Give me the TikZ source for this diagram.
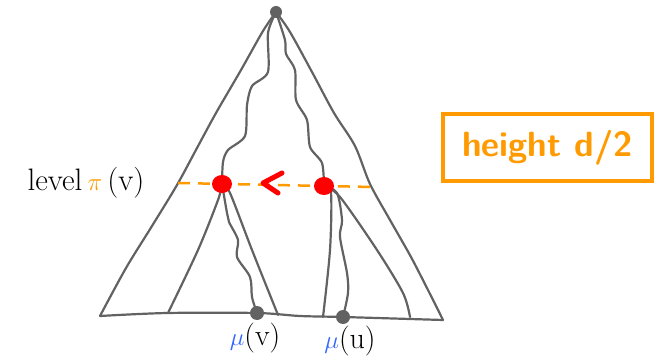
\documentclass[tikz,border=0pt]{standalone}
\usepackage{fontspec}
\definecolor{sk}{HTML}{626262}
\definecolor{og}{HTML}{FF9A00}
\definecolor{rd}{HTML}{FF0000}
\definecolor{bl}{HTML}{3366FF}
\begin{document}
\begin{tikzpicture}[x=1pt,y=-1pt,
  edge/.style={draw=sk,line width=2.2pt,line cap=round,line join=round},
  gdot/.style={fill=sk},
  rdot/.style={fill=rd},
  lbl/.style={inner sep=0pt,font=\fontsize{31}{34}\selectfont}]
\useasboundingbox (0,0) rectangle (655,363);
\coordinate (apex) at (276,12);
\coordinate (bl) at (100,316);
\coordinate (br) at (443,320);
\coordinate (lv) at (222,184);
\coordinate (rv) at (324,186);
\coordinate (mv) at (257,313);
\coordinate (mu) at (343,317);
% outer triangle
\draw[edge] plot[smooth,tension=0.5] coordinates {(apex) (263,31) (241,70) (216,113) (197,148) (177,185) (152,226) (126,268) (bl)};
\draw[edge] plot[smooth,tension=0.5] coordinates {(apex) (290,32) (312,72) (334,113) (355,146) (370,184) (390,220) (411,257) (429,292) (br)};
\draw[edge] plot[smooth,tension=0.5] coordinates {(bl) (167,313) (mv) (300,316) (mu) (br)};
% inner paths from apex
\draw[edge] plot[smooth,tension=0.45] coordinates {(apex) (268,33) (268,72) (252,86) (247,105) (245,136) (228,150) (223,162) (lv)};
\draw[edge] plot[smooth,tension=0.45] coordinates {(apex) (285,40) (286,54) (295,70) (296,100) (307,120) (310,147) (322,163) (rv)};
% below left dot
\draw[edge] plot[smooth,tension=0.5] coordinates {(lv) (218,200) (198,250) (168,313)};
\draw[edge] plot[smooth,tension=0.5] coordinates {(lv) (227,213) (229,222) (238,240) (237,257) (250,277) (252,297) (mv)};
\draw[edge] plot[smooth,tension=0.5] coordinates {(lv) (230,193) (252,250) (278,315)};
% below right dot
\draw[edge] plot[smooth,tension=0.5] coordinates {(rv) (331,193) (330,250) (323,317)};
\draw[edge] plot[smooth,tension=0.5] coordinates {(rv) (337,193) (342,220) (340,237) (347,273) (348,293) (mu)};
\draw[edge] plot[smooth,tension=0.5] coordinates {(rv) (340,197) (377,250) (403,293) (410,317)};
% dashed level line
\coordinate (dl) at (178,183);
\coordinate (dr) at (373,187);
\draw[og,line width=2.5pt,dash pattern=on 12pt off 8pt] (dl) -- (dr);
% red arrow
\coordinate (at) at (263,183);
\coordinate (a1) at (282,173);
\coordinate (a2) at (278,193);
\draw[rd,line width=5pt,line cap=round,line join=round] (a1) -- (at) -- (a2);
% dots
\fill[rdot] (lv) ellipse [x radius=10pt,y radius=9pt];
\fill[rdot] (rv) ellipse [x radius=10pt,y radius=9pt];
\fill[gdot] (apex) circle [radius=6pt];
\fill[gdot] (mv) circle [radius=7pt];
\fill[gdot] (mu) circle [radius=7pt];
% labels
\node[lbl] (level) at (86,183) {level\,{\color{og}$\pi$}\,(v)};
\node[lbl,font=\fontsize{30}{34}\selectfont] (muv) at (255,338) {{\color{bl}$\mu$}(v)};
\node[lbl,font=\fontsize{30}{34}\selectfont] (muu) at (350,341) {{\color{bl}$\mu$}(u)};
% box
\node[draw=og,line width=4pt,minimum width=209pt,minimum height=67pt,inner sep=0pt,
  text=og,font=\fontsize{35}{38}\selectfont\sffamily\bfseries] (hbox) at (547.5,147.5) {height d/2};
\end{tikzpicture}
\end{document}
